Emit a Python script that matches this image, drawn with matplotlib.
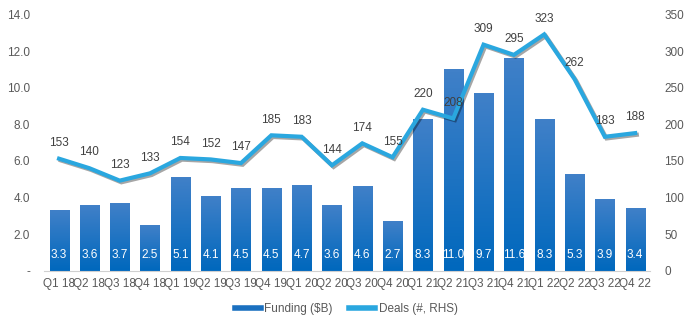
import numpy as np
import matplotlib.pyplot as plt
import matplotlib.patheffects as pe
from matplotlib.colors import LinearSegmentedColormap
from matplotlib.lines import Line2D

quarters = ["Q1 18", "Q2 18", "Q3 18", "Q4 18", "Q1 19", "Q2 19", "Q3 19", "Q4 19",
            "Q1 20", "Q2 20", "Q3 20", "Q4 20", "Q1 21", "Q2 21", "Q3 21", "Q4 21",
            "Q1 22", "Q2 22", "Q3 22", "Q4 22"]
funding = [3.3, 3.6, 3.7, 2.5, 5.1, 4.1, 4.5, 4.5, 4.7, 3.6, 4.6, 2.7,
           8.3, 11.0, 9.7, 11.6, 8.3, 5.3, 3.9, 3.4]
deals = [153, 140, 123, 133, 154, 152, 147, 185, 183, 144, 174, 155,
         220, 208, 309, 295, 323, 262, 183, 188]

plt.rcParams['font.family'] = ['Liberation Sans', 'DejaVu Sans']
grey = "#595959"
bar_col = "#1a70c0"
line_col = "#2aa7df"

fig = plt.figure(figsize=(6.86, 3.26), dpi=100)
ax = fig.add_axes([0.064, 0.17, 0.884, 0.785])
ax2 = ax.twinx()

x = np.arange(len(quarters))
w = 0.63
grad = LinearSegmentedColormap.from_list("g", ["#0068bd", "#4080c8"])
bars = ax.bar(x, funding, width=w, color="none", edgecolor="none")
for b in bars:
    x0, h = b.get_x(), b.get_height()
    ax.imshow(np.linspace(0, 1, 64).reshape(-1, 1), cmap=grad, origin="lower",
              extent=[x0, x0 + w, 0, h], aspect="auto", zorder=2)
for xi, v in zip(x, funding):
    ax.text(xi, 0.55, f"{v:.1f}", ha="center", va="bottom", color="white", fontsize=8.5, zorder=3)

ax2.plot(x, deals, color=line_col, lw=3.0, solid_joinstyle="miter",
         path_effects=[pe.SimpleLineShadow(offset=(1.2, -1.2), alpha=0.35), pe.Normal()])
for xi, v in zip(x, deals):
    ax2.annotate(str(v), (xi, v), xytext=(0, 7), textcoords="offset points",
                 ha="center", va="bottom", color="#404040", fontsize=8.5)

ax.set_xlim(-0.5, len(quarters) - 0.5)
ax.set_ylim(0, 14)
ax2.set_ylim(0, 350)
ax.set_yticks(np.arange(0, 15, 2))
ax.set_yticklabels(["-"] + [f"{t:.1f}" for t in np.arange(2, 15, 2)])
ax2.set_yticks(np.arange(0, 351, 50))
ax.set_xticks(x)
ax.set_xticklabels(quarters)

for a in (ax, ax2):
    for s in a.spines.values():
        s.set_visible(False)
    a.tick_params(length=0, colors=grey, labelsize=8.5)
ax.spines["bottom"].set_visible(True)
ax.spines["bottom"].set_color("#d0d0d0")
ax.tick_params(axis="y", pad=10)
ax2.tick_params(axis="y", pad=10)
ax.tick_params(axis="x", pad=5)

handles = [Line2D([], [], color=bar_col, lw=4), Line2D([], [], color=line_col, lw=4)]
fig.legend(handles, ["Funding ($B)", "Deals (#, RHS)"], loc="lower center",
           bbox_to_anchor=(0.505, 0.0), ncol=2, frameon=False, fontsize=8.5,
           labelcolor=grey, handlelength=2.2, columnspacing=1.4, handletextpad=0.3)

fig.savefig("out.png", dpi=100)
